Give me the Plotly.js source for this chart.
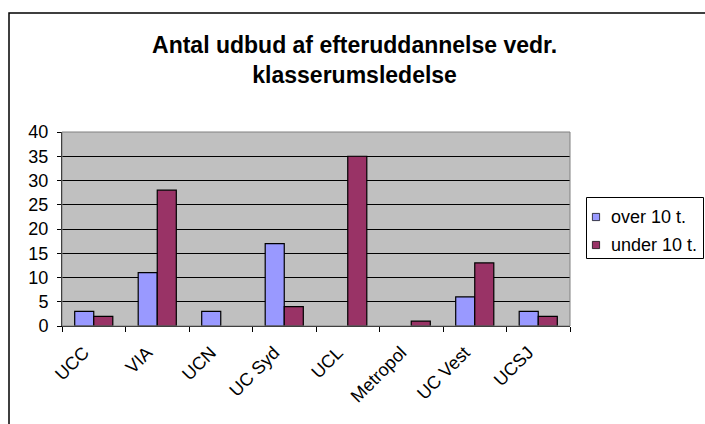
<!DOCTYPE html>
<html><head><meta charset="utf-8">
<script src="https://cdn.plot.ly/plotly-3.0.1.min.js"></script>
<style>body{margin:0;background:#fff}#c{width:705px;height:424px}</style>
</head><body><div id="c"></div>
<script>
const categories = ["UCC","VIA","UCN","UC Syd","UCL","Metropol","UC Vest","UCSJ"];
const over10 = [3,11,3,17,0,0,6,3];
const under10 = [2,28,0,4,35,1,13,2];
const seriesNames = ["over 10 t.","under 10 t."];
const yTicks = [0,5,10,15,20,25,30,35,40];

const font = "Liberation Sans, Arial, sans-serif";
const traces = [
  {type:"bar", x:categories, y:over10, name:seriesNames[0],
   marker:{color:"#9999FF", line:{color:"#000", width:over10.map(v=>v?1.2:0)}}},
  {type:"bar", x:categories, y:under10, name:seriesNames[1],
   marker:{color:"#993366", line:{color:"#000", width:under10.map(v=>v?1.2:0)}}}
];
const W = 508, H = 194, L = 62, T = 132;
const px = x => (x - L) / W;
const py = y => (T + H - y) / H;
const layout = {
  width:705, height:424,
  margin:{l:62, r:135, t:132, b:98, pad:0, autoexpand:false},
  paper_bgcolor:"#fff", plot_bgcolor:"#C0C0C0",
  font:{family:font, size:18, color:"#000"},
  title:{text:"<b>Antal udbud af efteruddannelse vedr.<br>klasserumsledelse</b>",
    font:{family:font, size:23, color:"#000"}, x:0.503, xanchor:"center",
    y:1-53/424, yanchor:"top"},
  barmode:"group", bargap:0.4, bargroupgap:0,
  showlegend:true,
  legend:{x:px(586), xanchor:"left", y:py(197), yanchor:"top",
    borderwidth:0, bgcolor:"rgba(0,0,0,0)",
    font:{family:font, size:18}, itemwidth:30, tracegroupgap:0},
  xaxis:{type:"category", tickangle:-45, ticks:"outside", tickson:"boundaries",
    ticklen:5, tickcolor:"#000", showline:true, linecolor:"#000", linewidth:1,
    ticklabelstandoff:8, ticklabelshift:-10,
    showgrid:false, mirror:false, tickfont:{family:font, size:18}, fixedrange:true},
  yaxis:{range:[0,40], tickvals:yTicks, ticktext:yTicks.map(String),
    ticks:"outside", ticklen:4, tickcolor:"#000", ticklabelstandoff:5,
    showline:true, linecolor:"#000", linewidth:1,
    gridcolor:"#000", gridwidth:1, zeroline:false,
    tickfont:{family:font, size:18}, fixedrange:true},
  shapes:[
    {type:"rect", xref:"paper", yref:"paper", x0:0, x1:1, y0:0, y1:1,
     line:{color:"#808080", width:1}, fillcolor:"rgba(0,0,0,0)", layer:"above"},
    {type:"rect", xref:"paper", yref:"paper", x0:px(9), x1:px(760),
     y0:py(470), y1:py(13), line:{color:"#000", width:1.5},
     fillcolor:"rgba(0,0,0,0)"},
    {type:"rect", xref:"paper", yref:"paper", x0:px(586.5), x1:px(703.5),
     y0:py(258.5), y1:py(197.5), line:{color:"#000", width:1},
     fillcolor:"#fff"}
  ]
};
Plotly.newPlot("c", traces, layout, {displayModeBar:false, staticPlot:true}).then(gd => {
  const root = gd.getBoundingClientRect();
  const items = gd.querySelectorAll(".legend .traces");
  items.forEach((g, i) => {
    const path = g.querySelector(".legendpoints path");
    const text = g.querySelector("text.legendtext");
    // row placement
    const tb = text.getBoundingClientRect();
    const cy = tb.top + tb.height / 2 - root.top;
    const dy = (217 + 28 * i) - cy;
    const tr = g.getAttribute("transform") || "";
    g.setAttribute("transform", tr + ` translate(0,${dy})`);
    // text start
    const tb2 = text.getBoundingClientRect();
    const dx = 611 - (tb2.left - root.left);
    text.setAttribute("x", parseFloat(text.getAttribute("x") || 0) + dx);
    // symbol size/position
    if (path) {
      const pb = path.getBoundingClientRect();
      const pcx = pb.left + pb.width / 2 - root.left;
      const pcy = pb.top + pb.height / 2 - root.top;
      const ptr = path.getAttribute("transform") || "";
      path.setAttribute("transform", `translate(${596 - pcx},${(217 + 28 * i) - pcy})` + ptr + " scale(0.6)");
      path.style.strokeWidth = "1.2px";
      path.style.stroke = "#000";
    }
  });
});
</script></body></html>
